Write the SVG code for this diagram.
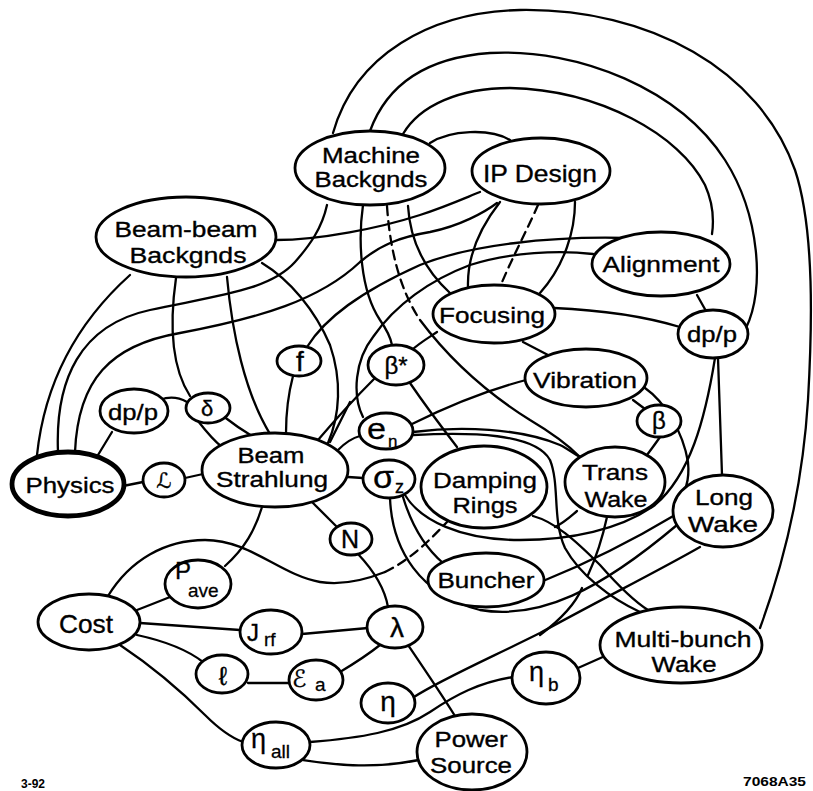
<svg xmlns="http://www.w3.org/2000/svg" width="813" height="791" viewBox="0 0 813 791">
<style>
.n{fill:#fff;stroke:#000;stroke-width:2.8}
.c{fill:none;stroke:#000;stroke-width:2.3;stroke-linecap:round}
.d{stroke-dasharray:9 6}
text{font-family:"Liberation Sans",Arial,"DejaVu Sans",sans-serif;fill:#000}
.t{font-size:22px;text-anchor:middle;stroke:#000;stroke-width:0.35}
.s{font-size:24px;stroke:#000;stroke-width:0.3}
.sub{font-size:19px;stroke:#000;stroke-width:0.3}
.f{font-size:12px;font-weight:bold}
</style>
<rect width="813" height="791" fill="#fff"/>
<g id="connectors">
<path class="c" d="M333,133 C355,55 430,12 520,10 C650,8 760,70 795,170 C815,230 812,330 808,400 C803,480 785,560 760,628"/>
<path class="c" d="M370,131 C385,90 420,58 490,53 C580,48 680,90 725,160 C760,215 765,290 746,328"/>
<path class="c" d="M403,134 C420,105 460,88 510,88 C600,90 680,135 705,185 C714,205 714,220 712,234"/>
<path class="c" d="M430,143 C450,130 490,128 510,140"/>
<path class="c" d="M276,240 C320,240 380,228 420,215 C445,207 465,198 480,192"/>
<path class="c" d="M58,452 C55,380 80,325 150,310 C220,295 270,290 295,262 C310,245 322,228 327,205"/>
<path class="c" d="M75,452 C78,380 110,345 180,333 C260,318 320,300 360,262 C380,245 400,237 430,232 C460,226 485,212 497,203"/>
<path class="c" d="M307,347 C325,318 360,292 420,265 C470,245 550,236 627,238"/>
<path class="c" d="M363,417 C352,395 355,360 373,337 C395,305 430,280 470,265 C510,252 560,250 593,254"/>
<path class="c" d="M37,455 C45,380 80,320 130,275"/>
<path class="c" d="M176,278 C170,320 170,365 190,396"/>
<path class="c" d="M198,421 C205,430 213,440 222,447"/>
<path class="c" d="M223,416 C232,423 242,430 252,436"/>
<path class="c" d="M160,400 C170,396 178,397 187,402"/>
<path class="c" d="M227,277 C232,333 245,393 270,434"/>
<path class="c" d="M262,263 C290,280 315,310 330,345 C342,380 340,415 328,443"/>
<path class="c" d="M98,455 L112,432"/>
<path class="c" d="M123,486 L143,482"/>
<path class="c" d="M185,478 L203,474"/>
<path class="c" d="M348,477 L363,478"/>
<path class="c" d="M338,450 C345,443 352,438 360,436"/>
<path class="c" d="M293,376 C288,395 286,415 286,433"/>
<path class="c" d="M318,440 C335,420 355,398 375,378"/>
<path class="c" d="M330,442 L350,402"/>
<path class="c" d="M410,383 C425,405 440,425 457,447"/>
<path class="c" d="M437,332 C428,338 418,344 412,350"/>
<path class="c" d="M523,342 L548,355"/>
<path class="c" d="M412,424 C440,410 480,392 526,380"/>
<path class="c" d="M413,432 C460,426 520,428 560,445 C568,449 573,453 580,457"/>
<path class="c" d="M413,435 C470,432 535,433 550,460 C560,485 552,520 565,548 C580,575 610,598 640,612"/>
<path class="c" d="M533,516 C555,522 575,540 600,565 C615,582 632,600 648,610"/>
<path class="c" d="M633,400 L645,409"/>
<path class="c" d="M660,437 C656,443 652,448 647,455"/>
<path class="c" d="M645,388 C665,402 683,432 688,462 C690,482 684,495 676,503"/>
<path class="c" d="M543,581 C580,566 625,545 675,515"/>
<path class="c" d="M697,295 L706,311"/>
<path class="c" d="M718,358 L722,475"/>
<path class="c" d="M554,308 C600,310 640,315 680,327"/>
<path class="c" d="M500,202 C482,225 467,255 468,287"/>
<path class="c d" d="M538,205 C528,228 512,258 500,287"/>
<path class="c" d="M575,202 C575,230 565,265 540,293"/>
<path class="c" d="M363,205 C358,240 360,290 380,320 C387,330 391,340 392,345"/>
<path class="c" d="M408,206 C410,240 425,270 450,293"/>
<path class="c d" d="M387,206 C390,250 400,290 420,320"/>
<path class="c" d="M420,320 C450,360 490,395 530,420 C552,433 568,445 580,457"/>
<path class="c" d="M405,495 C420,520 460,540 520,540 C570,540 620,530 655,505 C690,475 705,420 715,358"/>
<path class="c" d="M555,527 C565,522 571,516 577,511"/>
<path class="c" d="M390,498 C392,550 420,595 480,610 C540,620 600,590 677,525"/>
<path class="c" d="M403,497 C410,520 422,545 443,563"/>
<path class="c" d="M607,517 C602,540 595,560 588,575"/>
<path class="c" d="M582,588 C575,605 560,620 540,635"/>
<path class="c" d="M700,547 C660,570 600,600 540,633 C490,658 440,680 414,697"/>
<path class="c" d="M108,596 C130,560 165,540 205,540 C250,540 280,575 320,582 C345,586 370,578 385,572"/>
<path class="c d" d="M385,572 C410,560 430,540 447,522"/>
<path class="c" d="M310,742 C360,738 400,732 430,712 C455,695 480,682 513,677"/>
<path class="c" d="M303,760 C330,764 370,770 419,760"/>
<path class="c" d="M408,645 C425,670 440,692 455,716"/>
<path class="c" d="M358,554 C375,572 385,590 388,607"/>
<path class="c" d="M312,502 C322,512 330,520 337,527"/>
<path class="c" d="M262,507 C255,530 245,548 225,566"/>
<path class="c" d="M137,610 C150,605 160,601 170,597"/>
<path class="c" d="M140,623 L240,630"/>
<path class="c" d="M302,634 L368,628"/>
<path class="c" d="M137,635 C160,640 185,648 203,662"/>
<path class="c" d="M248,683 L290,683"/>
<path class="c" d="M340,672 C355,663 370,653 380,645"/>
<path class="c" d="M120,645 C150,665 180,690 205,715 C220,730 232,738 243,742"/>
<path class="c" d="M578,668 L605,656"/>
</g>
<g id="machine"><ellipse class="n" cx="370" cy="168" rx="75" ry="37"/><text class="t" x="371" y="163" textLength="98" lengthAdjust="spacingAndGlyphs">Machine</text><text class="t" x="371" y="187" textLength="113" lengthAdjust="spacingAndGlyphs">Backgnds</text></g>
<g id="ipdesign"><ellipse class="n" cx="541" cy="171" rx="69" ry="33"/><text class="t" x="540" y="182" style="font-size:24px" textLength="114" lengthAdjust="spacingAndGlyphs">IP Design</text></g>
<g id="beambeam"><ellipse class="n" cx="186" cy="237" rx="90" ry="40"/><text class="t" x="186" y="237" textLength="143" lengthAdjust="spacingAndGlyphs">Beam-beam</text><text class="t" x="188" y="263" textLength="117" lengthAdjust="spacingAndGlyphs">Backgnds</text></g>
<g id="alignment"><ellipse class="n" cx="661" cy="264" rx="69" ry="32"/><text class="t" x="661" y="272" textLength="117" lengthAdjust="spacingAndGlyphs">Alignment</text></g>
<g id="focusing"><ellipse class="n" cx="494" cy="314" rx="61" ry="29"/><text class="t" x="492" y="323" textLength="106" lengthAdjust="spacingAndGlyphs">Focusing</text></g>
<g id="dpp-right"><ellipse class="n" cx="713" cy="334" rx="35" ry="24"/><text class="t" x="712" y="342" textLength="50" lengthAdjust="spacingAndGlyphs">dp/p</text></g>
<g id="vibration"><ellipse class="n" cx="586" cy="378" rx="61" ry="29"/><text class="t" x="585" y="388" textLength="104" lengthAdjust="spacingAndGlyphs">Vibration</text></g>
<g id="beta"><ellipse class="n" cx="659" cy="421" rx="22" ry="16"/><text class="t" x="659" y="429" style="font-size:24px">β</text></g>
<g id="transwake"><ellipse class="n" cx="615" cy="482" rx="50" ry="35"/><text class="t" x="615" y="480" textLength="66" lengthAdjust="spacingAndGlyphs">Trans</text><text class="t" x="616" y="507" textLength="63" lengthAdjust="spacingAndGlyphs">Wake</text></g>
<g id="longwake"><ellipse class="n" cx="723" cy="511" rx="50" ry="36"/><text class="t" x="724" y="505" textLength="58" lengthAdjust="spacingAndGlyphs">Long</text><text class="t" x="723" y="532" textLength="70" lengthAdjust="spacingAndGlyphs">Wake</text></g>
<g id="dampingrings"><ellipse class="n" cx="484" cy="487" rx="63" ry="41"/><text class="t" x="485" y="488" textLength="104" lengthAdjust="spacingAndGlyphs">Damping</text><text class="t" x="485" y="513" textLength="65" lengthAdjust="spacingAndGlyphs">Rings</text></g>
<g id="buncher"><ellipse class="n" cx="486" cy="580" rx="58" ry="27"/><text class="t" x="486" y="588" textLength="97" lengthAdjust="spacingAndGlyphs">Buncher</text></g>
<g id="multibunch"><ellipse class="n" cx="681" cy="645" rx="81" ry="38"/><text class="t" x="683" y="647" textLength="137" lengthAdjust="spacingAndGlyphs">Multi-bunch</text><text class="t" x="684" y="672" textLength="65" lengthAdjust="spacingAndGlyphs">Wake</text></g>
<g id="eta-b"><ellipse class="n" cx="546" cy="678" rx="34" ry="26"/><text class="s" x="529" y="681" style="font-size:27px">η</text><text class="sub" x="548" y="691">b</text></g>
<g id="powersource"><ellipse class="n" cx="472" cy="752" rx="55" ry="38"/><text class="t" x="471" y="747" textLength="73" lengthAdjust="spacingAndGlyphs">Power</text><text class="t" x="471" y="773" textLength="82" lengthAdjust="spacingAndGlyphs">Source</text></g>
<g id="eta"><ellipse class="n" cx="388" cy="703" rx="27" ry="20"/><text class="t" x="388" y="711" style="font-size:28px">η</text></g>
<g id="lambda"><ellipse class="n" cx="395" cy="627" rx="28" ry="21"/><text class="t" x="397" y="637" style="font-size:28px">λ</text></g>
<g id="ea"><ellipse class="n" cx="316" cy="680" rx="27" ry="20"/><text class="s" x="292" y="687">ℰ</text><text class="sub" x="315" y="691">a</text></g>
<g id="ell"><ellipse class="n" cx="222" cy="674" rx="26" ry="19"/><text class="t" x="223" y="685" style="font-size:26px">ℓ</text></g>
<g id="jrf"><ellipse class="n" cx="271" cy="632" rx="31" ry="22"/><text class="s" x="247" y="641">J</text><text class="sub" x="264" y="646">rf</text></g>
<g id="cost"><ellipse class="n" cx="89" cy="622" rx="51" ry="28"/><text class="t" x="86" y="633" style="font-size:25px" textLength="54" lengthAdjust="spacingAndGlyphs">Cost</text></g>
<g id="pave"><ellipse class="n" cx="198" cy="584" rx="33" ry="24"/><text class="s" x="175" y="579">P</text><text class="sub" x="188" y="597">ave</text></g>
<g id="eta-all"><ellipse class="n" cx="276" cy="745" rx="34" ry="23"/><text class="s" x="251" y="748" style="font-size:27px">η</text><text class="sub" x="271" y="758">all</text></g>
<g id="N"><ellipse class="n" cx="351" cy="539" rx="21" ry="16"/><text class="t" x="350" y="548" style="font-size:25px">N</text></g>
<g id="beamstrahlung"><ellipse class="n" cx="275" cy="470" rx="73" ry="37"/><text class="t" x="271" y="463" textLength="67" lengthAdjust="spacingAndGlyphs">Beam</text><text class="t" x="272" y="487" textLength="112" lengthAdjust="spacingAndGlyphs">Strahlung</text></g>
<g id="sigmaz"><ellipse class="n" cx="389" cy="479" rx="26" ry="19"/><text class="s" x="373" y="488" style="font-size:32px" textLength="21" lengthAdjust="spacingAndGlyphs">σ</text><text class="sub" x="395" y="493" style="font-size:18px">z</text></g>
<g id="en"><ellipse class="n" cx="386" cy="431" rx="27" ry="18"/><text class="s" x="367" y="439" style="font-size:30px" textLength="19" lengthAdjust="spacingAndGlyphs">e</text><text class="sub" x="388" y="447" style="font-size:17px">n</text></g>
<g id="lum"><ellipse class="n" cx="164" cy="480" rx="21" ry="17"/><text class="t" x="164" y="488" style="font-family:'DejaVu Sans',sans-serif;font-size:21px">ℒ</text></g>
<g id="physics"><ellipse class="n" cx="68" cy="484" rx="56" ry="32" style="stroke-width:4.8"/><text class="t" x="70" y="493" textLength="89" lengthAdjust="spacingAndGlyphs">Physics</text></g>
<g id="dpp-left"><ellipse class="n" cx="134" cy="411" rx="34" ry="22"/><text class="t" x="133" y="420" textLength="50" lengthAdjust="spacingAndGlyphs">dp/p</text></g>
<g id="delta"><ellipse class="n" cx="208" cy="408" rx="22" ry="15"/><text class="t" x="207" y="416" style="font-size:22px">δ</text></g>
<g id="f"><ellipse class="n" cx="299" cy="361" rx="22" ry="15"/><text class="t" x="300" y="371" style="font-size:28px">f</text></g>
<g id="betastar"><ellipse class="n" cx="396" cy="365" rx="28" ry="20"/><text class="t" x="396" y="374" style="font-size:24px">β*</text></g>
<text class="f" x="21" y="788">3-92</text>
<text class="f" x="743" y="786" textLength="63" lengthAdjust="spacingAndGlyphs">7068A35</text>
</svg>
